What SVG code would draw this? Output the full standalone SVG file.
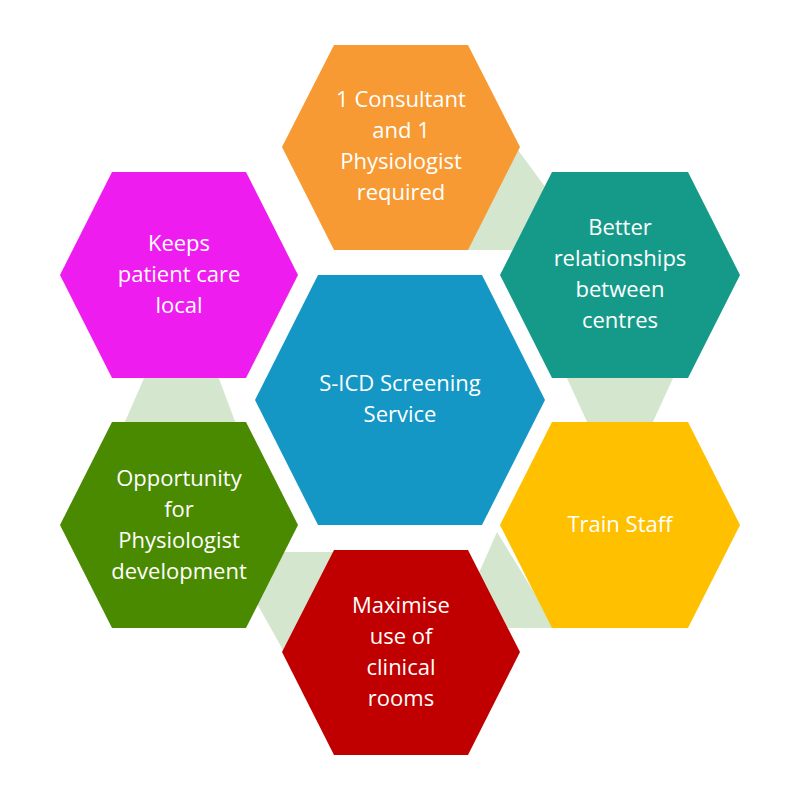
<svg xmlns="http://www.w3.org/2000/svg" width="800" height="800" viewBox="0 0 800 800">
<style>
.c{fill:#D5E6CF}
text{font-family:"Open Sans","Liberation Sans",sans-serif;font-size:22px;fill:#fff;text-anchor:middle}
</style>
<rect width="800" height="800" fill="#fff"/>
<g id="connectors">
<polygon class="c" points="518,150 546,188 513,250 466,250"/>
<polygon class="c" points="566,376 674,376 652,424 588,424"/>
<polygon class="c" points="497,532 556,628 507,628 478,575"/>
<polygon class="c" points="268,552 338,552 283,650 255,600"/>
<polygon class="c" points="145,376 218,376 236,424 124,424"/>
</g>
<g id="top"><polygon fill="#F79A34" points="282,147 334,45 468,45 520,147 468,250 334,250"/>
<text x="401" y="107">1 Consultant</text><text x="401" y="138">and 1</text><text x="401" y="169">Physiologist</text><text x="401" y="200">required</text></g>
<g id="teal"><polygon fill="#159A8A" points="500,275 552,172 688,172 740,275 688,378 552,378"/>
<text x="620" y="235">Better</text><text x="620" y="266">relationships</text><text x="620" y="297">between</text><text x="620" y="328">centres</text></g>
<g id="yellow"><polygon fill="#FFC000" points="500,525 552,422 688,422 740,525 688,628 552,628"/>
<text x="620" y="532">Train Staff</text></g>
<g id="red"><polygon fill="#C00000" points="282,652 334,550 468,550 520,652 468,755 334,755"/>
<text x="401" y="613">Maximise</text><text x="401" y="644">use of</text><text x="401" y="675">clinical</text><text x="401" y="706">rooms</text></g>
<g id="green"><polygon fill="#4A8A00" points="60,525 112,422 246,422 298,525 246,628 112,628"/>
<text x="179" y="486">Opportunity</text><text x="179" y="517">for</text><text x="179" y="548">Physiologist</text><text x="179" y="579">development</text></g>
<g id="magenta"><polygon fill="#EE1CEE" points="60,275 112,172 246,172 298,275 246,378 112,378"/>
<text x="179" y="251">Keeps</text><text x="179" y="282">patient care</text><text x="179" y="313">local</text></g>
<g id="center"><polygon fill="#1597C6" points="255,400 318,275 482,275 545,400 482,525 318,525"/>
<text x="400" y="391">S-ICD Screening</text><text x="400" y="422">Service</text></g>
</svg>
